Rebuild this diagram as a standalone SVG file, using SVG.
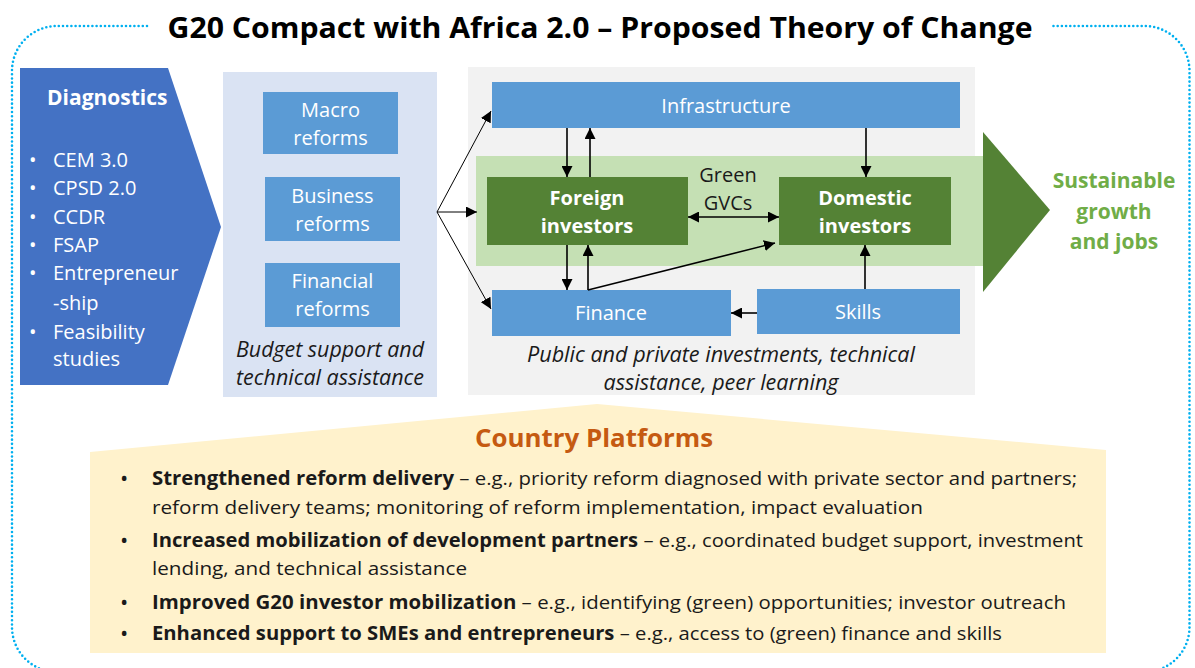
<svg xmlns="http://www.w3.org/2000/svg" width="1195" height="668" viewBox="0 0 1195 668">
<style>
text{font-family:"Open Sans","Liberation Sans",sans-serif;}
.w{fill:#ffffff;font-size:20px;text-anchor:middle;}
.wb{fill:#ffffff;font-size:20px;font-weight:bold;text-anchor:middle;}
.k{fill:#1a1a1a;font-size:20px;text-anchor:middle;}
.it{fill:#1a1a1a;font-size:21px;font-style:italic;text-anchor:middle;}
.dg{fill:#ffffff;font-size:20px;}
.bl{fill:#1a1a1a;font-size:19px;}
.dot{font-size:22px;}
.b{font-weight:bold;}
.box{fill:#5B9BD5;}
.inv{fill:#548235;}
.ar{stroke:#000;stroke-width:1.6;fill:none;marker-end:url(#ah);}
.fan{stroke:#000;stroke-width:1;fill:none;marker-end:url(#ah);}
</style>
<defs>
<marker id="ah" markerUnits="userSpaceOnUse" markerWidth="12" markerHeight="11" refX="11" refY="5.5" orient="auto-start-reverse">
<path d="M0,0 L11,5.5 L0,11 z" fill="#000"/>
</marker>
</defs>
<rect width="1195" height="668" fill="#ffffff"/>

<!-- dotted frame -->
<path d="M147,26 L57,26 A45,45 0 0 0 12,71 L12,627 A45,45 0 0 0 57,672 L1144,672 A45,45 0 0 0 1189.5,627 L1189.5,71 A45,45 0 0 0 1144,26 L1052,26" fill="none" stroke="#00B0F0" stroke-width="2.6" stroke-dasharray="0 4.2" stroke-linecap="round"/>

<text x="600" y="38" font-size="28" font-weight="bold" fill="#000" text-anchor="middle" textLength="865" lengthAdjust="spacingAndGlyphs">G20 Compact with Africa 2.0 – Proposed Theory of Change</text>

<!-- Diagnostics -->
<g id="diagnostics">
<polygon points="20,68 168,68 221,227 168,385 20,385" fill="#4472C4"/>
<text x="47" y="105" fill="#ffffff" font-size="21" font-weight="bold">Diagnostics</text>
<g class="dg">
<text x="29" y="167">•</text><text x="53" y="167">CEM 3.0</text>
<text x="29" y="195">•</text><text x="53" y="195">CPSD 2.0</text>
<text x="29" y="224">•</text><text x="53" y="224">CCDR</text>
<text x="29" y="252">•</text><text x="53" y="252">FSAP</text>
<text x="29" y="280">•</text><text x="53" y="280">Entrepreneur</text>
<text x="53" y="310">-ship</text>
<text x="29" y="339">•</text><text x="53" y="339">Feasibility</text>
<text x="53" y="366">studies</text>
</g>
</g>

<!-- Reforms panel -->
<g id="reforms-panel">
<rect x="223" y="72" width="214" height="325" fill="#DAE3F3"/>
<text class="it" x="330" y="357" textLength="188" lengthAdjust="spacingAndGlyphs">Budget support and</text>
<text class="it" x="330" y="385" textLength="188" lengthAdjust="spacingAndGlyphs">technical assistance</text>
</g>
<g id="macro">
<rect class="box" x="263" y="92" width="135" height="62"/>
<text class="w" x="330.5" y="117">Macro</text>
<text class="w" x="330.5" y="145">reforms</text>
</g>
<g id="business">
<rect class="box" x="265" y="177" width="135" height="64"/>
<text class="w" x="332.5" y="203">Business</text>
<text class="w" x="332.5" y="231">reforms</text>
</g>
<g id="financial">
<rect class="box" x="265" y="263" width="135" height="64"/>
<text class="w" x="332.5" y="288">Financial</text>
<text class="w" x="332.5" y="316">reforms</text>
</g>

<!-- Investment panel -->
<g id="investment-panel">
<rect x="468" y="67" width="507" height="328" fill="#F2F2F2"/>
<rect x="476" y="156" width="510" height="110" fill="#C5E0B4"/>
<text class="it" x="721" y="362" textLength="388" lengthAdjust="spacingAndGlyphs">Public and private investments, technical</text>
<text class="it" x="721" y="390" textLength="235" lengthAdjust="spacingAndGlyphs">assistance, peer learning</text>
</g>

<g id="outcome">
<polygon points="983,132 1050,210 983,292" fill="#548235"/>
<g fill="#70AD47" font-size="21" font-weight="bold" text-anchor="middle">
<text x="1114" y="188">Sustainable</text>
<text x="1114" y="219">growth</text>
<text x="1114" y="249">and jobs</text>
</g>
</g>

<g id="infrastructure">
<rect class="box" x="492" y="82" width="468" height="46"/>
<text class="w" x="726" y="113">Infrastructure</text>
</g>
<g id="foreign">
<rect class="inv" x="487" y="177" width="201" height="68"/>
<text class="wb" x="587" y="205">Foreign</text>
<text class="wb" x="587" y="233">investors</text>
</g>
<g id="domestic">
<rect class="inv" x="779" y="177" width="172" height="68"/>
<text class="wb" x="865" y="205">Domestic</text>
<text class="wb" x="865" y="233">investors</text>
</g>
<g id="finance">
<rect class="box" x="492" y="290" width="239" height="46"/>
<text class="w" x="611" y="320">Finance</text>
</g>
<g id="skills">
<rect class="box" x="757" y="289" width="203" height="45"/>
<text class="w" x="858" y="319">Skills</text>
</g>
<g id="gvc-label">
<text class="k" x="728" y="182">Green</text>
<text class="k" x="728" y="210">GVCs</text>
</g>

<!-- connectors -->
<g id="connectors">
<path class="fan" d="M437,212 L491,111"/>
<path class="fan" d="M437,212 L477,212"/>
<path class="fan" d="M437,212 L491,309"/>
<path class="ar" d="M567,128 L567,177"/>
<path class="ar" d="M590,177 L590,128"/>
<path class="ar" d="M866,128 L866,177"/>
<path class="ar" d="M688,217 L779,217" marker-start="url(#ah)"/>
<path class="ar" d="M567,245 L567,290"/>
<path class="ar" d="M588,290 L588,245"/>
<path class="ar" d="M588,290 L775,243"/>
<path class="ar" d="M865,289 L865,245"/>
<path class="ar" d="M757,313 L731,313"/>
</g>

<!-- Country platforms -->
<g id="country-platforms">
<polygon points="90,452 597,404 1106,450 1106,653 90,653" fill="#FFF2CC"/>
<text x="594" y="447" fill="#C55A11" font-size="25" font-weight="bold" text-anchor="middle" textLength="238" lengthAdjust="spacingAndGlyphs">Country Platforms</text>
<g class="bl">
<text class="dot" x="120" y="486">•</text>
<text x="152" y="485" textLength="925" lengthAdjust="spacingAndGlyphs"><tspan class="b">Strengthened reform delivery</tspan> – e.g., priority reform diagnosed with private sector and partners;</text>
<text x="152" y="514" textLength="771" lengthAdjust="spacingAndGlyphs">reform delivery teams; monitoring of reform implementation, impact evaluation</text>
<text class="dot" x="120" y="548">•</text>
<text x="152" y="547" textLength="931" lengthAdjust="spacingAndGlyphs"><tspan class="b">Increased mobilization of development partners</tspan> – e.g., coordinated budget support, investment</text>
<text x="152" y="575" textLength="315" lengthAdjust="spacingAndGlyphs">lending, and technical assistance</text>
<text class="dot" x="120" y="610">•</text>
<text x="152" y="609" textLength="914" lengthAdjust="spacingAndGlyphs"><tspan class="b">Improved G20 investor mobilization</tspan> – e.g., identifying (green) opportunities; investor outreach</text>
<text class="dot" x="120" y="641">•</text>
<text x="152" y="640" textLength="850" lengthAdjust="spacingAndGlyphs"><tspan class="b">Enhanced support to SMEs and entrepreneurs</tspan> – e.g., access to (green) finance and skills</text>
</g>
</g>
</svg>
